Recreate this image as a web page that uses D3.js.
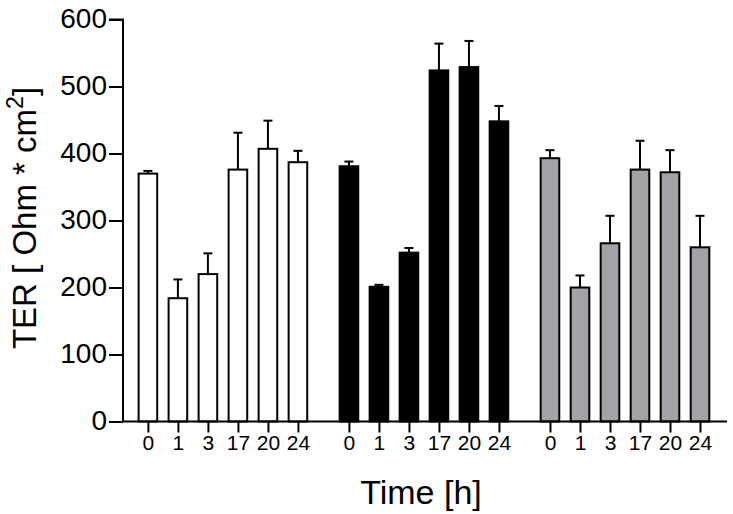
<!DOCTYPE html>
<html>
<head>
<meta charset="utf-8">
<script src="https://cdn.jsdelivr.net/npm/d3@7"></script>
<style>
  html, body { margin: 0; padding: 0; background: #fff; }
  svg { display: block; font-family: "Liberation Sans", Arial, sans-serif; }
</style>
</head>
<body>
<svg id="chart" width="733" height="514"></svg>
<script>
// ---- data ----
const timeLabels = ["0", "1", "3", "17", "20", "24"];
const groupNames = ["white", "black", "gray"];
const groupFills = ["#ffffff", "#000000", "#a3a3a7"];
const whiteMeans = [370, 184, 220, 376, 407, 387];
const whiteErr   = [4, 28, 31, 55, 42, 17];
const blackMeans = [381, 201, 252, 524, 529, 448];
const blackErr   = [7, 3, 7, 40, 39, 23];
const grayMeans  = [393, 200, 266, 376, 372, 260];
const grayErr    = [12, 18, 41, 43, 33, 47];
const yTicks = [0, 100, 200, 300, 400, 500, 600];

const groupMeans = [whiteMeans, blackMeans, grayMeans];
const groupErrs = [whiteErr, blackErr, grayErr];
const groupGap = 6.7; // slot offset between groups

const rows = [];
groupMeans.forEach((means, g) => {
  means.forEach((v, i) => {
    rows.push({ g, i, pos: g * groupGap + i, value: v, err: groupErrs[g][i], label: timeLabels[i] });
  });
});

// ---- layout ----
const svg = d3.select("#chart");
const x = d3.scaleLinear().domain([-0.83, 19.3]).range([123, 727]);
const y = d3.scaleLinear().domain([0, 600]).range([421.5, 19.5]);
const barW = (x(1) - x(0)) * 0.62;

// bars
svg.append("g").selectAll("rect").data(rows).join("rect")
  .attr("x", d => x(d.pos) - barW / 2)
  .attr("y", d => y(d.value))
  .attr("width", barW)
  .attr("height", d => y(0) - y(d.value))
  .attr("fill", d => groupFills[d.g])
  .attr("stroke", "#000")
  .attr("stroke-width", 2);

// error bars (upper only)
const eb = svg.append("g").attr("stroke", "#000").attr("stroke-width", 2);
eb.selectAll("line.v").data(rows).join("line").attr("class", "v")
  .attr("x1", d => x(d.pos)).attr("x2", d => x(d.pos))
  .attr("y1", d => y(d.value)).attr("y2", d => y(d.value + d.err));
eb.selectAll("line.c").data(rows).join("line").attr("class", "c")
  .attr("x1", d => x(d.pos) - 4.5).attr("x2", d => x(d.pos) + 4.5)
  .attr("y1", d => y(d.value + d.err)).attr("y2", d => y(d.value + d.err));

// y axis
const yAxis = svg.append("g").attr("transform", `translate(${x.range()[0]},0)`)
  .call(d3.axisLeft(y).tickValues(yTicks).tickSize(14).tickPadding(2).tickFormat(d3.format("d")));
yAxis.select(".domain").attr("stroke-width", 2).attr("d", `M-14,${y(600)}H0V${y(0)}`);
yAxis.selectAll(".tick line").attr("stroke-width", 2);
yAxis.selectAll(".tick text").attr("font-size", 28).attr("fill", "#000").attr("dy", "0.3em");
yAxis.attr("font-family", null);

// x axis
const xAxis = svg.append("g").attr("transform", `translate(0,${y(0)})`)
  .call(d3.axisBottom(x).tickValues(rows.map(d => d.pos)).tickSize(11).tickPadding(3)
    .tickFormat((d, k) => rows[k].label));
xAxis.select(".domain").attr("stroke-width", 2).attr("d", `M${x.range()[0]},0H${x.range()[1]}`);
xAxis.selectAll(".tick line").attr("stroke-width", 2);
xAxis.selectAll(".tick text").attr("font-size", 21).attr("fill", "#000");
xAxis.attr("font-family", null);

// axis titles
svg.append("text")
  .attr("x", 421).attr("y", 504)
  .attr("text-anchor", "middle")
  .attr("font-size", 34)
  .text("Time [h]");

const yt = svg.append("text")
  .attr("transform", "translate(36,218) rotate(-90)")
  .attr("text-anchor", "middle")
  .attr("font-size", 33);
yt.append("tspan").text("TER [ Ohm * cm");
yt.append("tspan").attr("font-size", 23).attr("dy", -13).text("2");
yt.append("tspan").attr("dy", 13).text("]");
</script>
</body>
</html>
